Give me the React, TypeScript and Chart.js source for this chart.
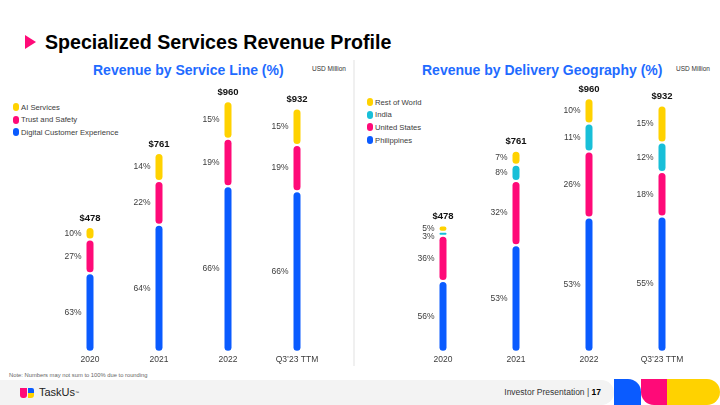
import React, { useEffect, useRef } from "react";
import { Chart, registerables } from "chart.js";

Chart.register(...registerables);

// ---------------- data ----------------
const years = ["2020", "2021", "2022", "Q3’23 TTM"];
const totalRevenue = [478, 761, 960, 932];
const totalLabels = ["$478", "$761", "$960", "$932"];

// Service line (%)
const dcxPct = [63, 64, 66, 66];
const trustSafetyPct = [27, 22, 19, 19];
const aiServicesPct = [10, 14, 15, 15];

// Delivery geography (%)
const philippinesPct = [56, 53, 53, 55];
const unitedStatesPct = [36, 32, 26, 18];
const indiaPct = [3, 8, 11, 12];
const restOfWorldPct = [5, 7, 10, 15];

const BLUE = "#0A5BFF";
const PINK = "#FF0A78";
const YELLOW = "#FFD200";
const CYAN = "#18BFD8";
const TITLE_BLUE = "#1F6BFF";
const FONT = '"Liberation Sans", Arial, Helvetica, sans-serif';

type Series = { label: string; pct: number[]; color: string };

const serviceSeries: Series[] = [
  { label: "Digital Customer Experience", pct: dcxPct, color: BLUE },
  { label: "Trust and Safety", pct: trustSafetyPct, color: PINK },
  { label: "AI Services", pct: aiServicesPct, color: YELLOW },
];
const geoSeries: Series[] = [
  { label: "Philippines", pct: philippinesPct, color: BLUE },
  { label: "United States", pct: unitedStatesPct, color: PINK },
  { label: "India", pct: indiaPct, color: CYAN },
  { label: "Rest of World", pct: restOfWorldPct, color: YELLOW },
];

const labelPlugin = {
  id: "segLabels",
  afterDatasetsDraw(chart: any) {
    const ctx = chart.ctx;
    ctx.save();
    ctx.font = `8.5px ${FONT}`;
    ctx.fillStyle = "#3c3c3c";
    ctx.textAlign = "right";
    ctx.textBaseline = "middle";
    const n = chart.data.labels.length;
    for (let i = 0; i < n; i++) {
      const items: { x: number; y: number; t: string }[] = [];
      chart.data.datasets.forEach((ds: any, di: number) => {
        const el = chart.getDatasetMeta(di).data[i];
        const p = el.getProps(["x", "y", "base", "width"], true);
        items.push({ x: p.x - p.width / 2 - 4, y: (p.y + p.base) / 2, t: ds.pct[i] + "%" });
      });
      items.sort((a, b) => a.y - b.y);
      for (let k = 1; k < items.length; k++) {
        if (items[k].y < items[k - 1].y + 8) items[k].y = items[k - 1].y + 8;
      }
      items.forEach((it) => ctx.fillText(it.t, it.x, it.y));
    }
    const last = chart.getDatasetMeta(chart.data.datasets.length - 1);
    ctx.font = `bold 9.5px ${FONT}`;
    ctx.fillStyle = "#111";
    ctx.textAlign = "center";
    last.data.forEach((el: any, i: number) => {
      const p = el.getProps(["x", "y"], true);
      ctx.fillText(totalLabels[i], p.x, p.y - 9);
    });
    ctx.restore();
  },
};

function BarPanel(props: {
  left: number;
  top: number;
  width: number;
  height: number;
  padLeft: number;
  padRight: number;
  yMax: number;
  series: Series[];
}) {
  const ref = useRef<HTMLCanvasElement>(null);
  useEffect(() => {
    if (!ref.current) return;
    const cum = totalRevenue.map(() => 0);
    const datasets = props.series.map((s) => {
      const data = s.pct.map((p, i) => {
        const start = cum[i];
        const end = start + (p * totalRevenue[i]) / 100;
        cum[i] = end;
        return [start, end];
      });
      return {
        label: s.label,
        pct: s.pct,
        data,
        backgroundColor: s.color,
        borderColor: "#ffffff",
        borderWidth: 1,
        borderRadius: 5,
        borderSkipped: false,
        barThickness: 9,
        grouped: false,
        inflateAmount: 0,
      };
    });
    const chart = new Chart(ref.current, {
      type: "bar",
      data: { labels: years, datasets: datasets as any },
      options: {
        animation: false,
        responsive: false,
        devicePixelRatio: 1,
        layout: {
          padding: { left: props.padLeft, right: props.padRight, top: 0, bottom: 2 },
        },
        plugins: { legend: { display: false }, tooltip: { enabled: false } },
        scales: {
          x: {
            offset: true,
            grid: { display: false, drawTicks: false },
            border: { display: false },
            ticks: {
              color: "#3c3c3c",
              font: { family: FONT, size: 8.5 },
              padding: 3,
              maxRotation: 0,
              autoSkip: false,
            },
          },
          y: { display: false, min: 0, max: props.yMax },
        },
      },
      plugins: [labelPlugin],
    });
    return () => chart.destroy();
  }, []);
  return (
    <canvas
      ref={ref}
      width={props.width}
      height={props.height}
      style={{
        position: "absolute",
        left: props.left,
        top: props.top,
        width: props.width,
        height: props.height,
      }}
    />
  );
}

function Legend(props: { left: number; top: number; items: Series[]; gap: number }) {
  return (
    <div style={{ position: "absolute", left: props.left, top: props.top }}>
      {props.items.map((s) => (
        <div key={s.label} style={{ display: "flex", alignItems: "center", height: props.gap }}>
          <span
            style={{
              display: "inline-block",
              width: 6,
              height: 8,
              borderRadius: 3,
              background: s.color,
              marginRight: 2,
            }}
          />
          <span style={{ fontSize: 7.7, color: "#3c3c3c", fontFamily: FONT, whiteSpace: "nowrap" }}>
            {s.label}
          </span>
        </div>
      ))}
    </div>
  );
}

const abs = (o: any) => ({ position: "absolute" as const, fontFamily: FONT, whiteSpace: "nowrap" as const, ...o });

export default function App() {
  return (
    <div style={{ position: "absolute", left: 0, top: 0, width: 720, height: 405, background: "#fff", overflow: "hidden" }}>
      {/* title */}
      <div
        style={abs({
          left: 25,
          top: 35,
          width: 0,
          height: 0,
          borderTop: "7px solid transparent",
          borderBottom: "7px solid transparent",
          borderLeft: "11px solid #FF0A78",
        })}
      />
      <div style={abs({ left: 45, top: 30, fontSize: 19.6, fontWeight: "bold", color: "#000", lineHeight: "24px" })}>
        Specialized Services Revenue Profile
      </div>

      {/* subtitles */}
      <div style={abs({ left: 93, top: 61, fontSize: 14, fontWeight: "bold", color: TITLE_BLUE, lineHeight: "18px" })}>
        Revenue by Service Line (%)
      </div>
      <div style={abs({ left: 312, top: 65, fontSize: 6.5, color: "#333", lineHeight: "8px" })}>USD Million</div>
      <div style={abs({ left: 422, top: 61, fontSize: 14, fontWeight: "bold", color: TITLE_BLUE, lineHeight: "18px" })}>
        Revenue by Delivery Geography (%)
      </div>
      <div style={abs({ left: 676, top: 65, fontSize: 6.5, color: "#333", lineHeight: "8px" })}>USD Million</div>

      {/* divider */}
      <div style={abs({ left: 353, top: 60, width: 2, height: 306, background: "#f0f0f0" })} />

      {/* legends */}
      <Legend left={13} top={101} gap={12.5} items={[...serviceSeries].reverse()} />
      <Legend left={367} top={96} gap={12.6} items={[...geoSeries].reverse()} />

      {/* charts */}
      <BarPanel left={0} top={80} width={354} height={290} padLeft={55.5} padRight={22.5} yMax={1041} series={serviceSeries} />
      <BarPanel left={356} top={80} width={364} height={290} padLeft={50.5} padRight={21.5} yMax={1029} series={geoSeries} />

      {/* note */}
      <div style={abs({ left: 9, top: 371, fontSize: 5.8, color: "#666", lineHeight: "8px" })}>
        Note: Numbers may not sum to 100% due to rounding
      </div>

      {/* footer band */}
      <div style={abs({ left: 0, top: 380, width: 614, height: 25, background: "#f3f3f3", borderRadius: "0 13px 13px 0" })} />
      {/* TaskUs logo */}
      <div style={abs({ left: 20, top: 388, width: 7, height: 10, background: PINK, borderRadius: "0 0 3px 3px" })} />
      <div style={abs({ left: 28, top: 388, width: 6, height: 4.5, background: BLUE, borderRadius: "0 2px 0 0" })} />
      <div style={abs({ left: 28, top: 393, width: 6, height: 5, background: YELLOW, borderRadius: "0 0 3px 0" })} />
      <div style={abs({ left: 39, top: 386, fontSize: 11, color: "#222", lineHeight: "13px" })}>
        TaskUs<span style={{ fontSize: 4, verticalAlign: "top" }}>™</span>
      </div>
      <div style={abs({ left: 480, top: 387, width: 121, textAlign: "right", fontSize: 8.5, color: "#333", lineHeight: "11px" })}>
        Investor Presentation | <b style={{ color: "#000" }}>17</b>
      </div>

      {/* brand shapes */}
      <div style={abs({ left: 614, top: 379, width: 27, height: 26, background: BLUE, borderRadius: "0 13px 0 0" })} />
      <div style={abs({ left: 641, top: 379, width: 26, height: 26, background: PINK, borderRadius: "0 0 0 13px" })} />
      <div style={abs({ left: 667, top: 379, width: 53, height: 26, background: YELLOW, borderRadius: "0 13px 13px 0" })} />
    </div>
  );
}
